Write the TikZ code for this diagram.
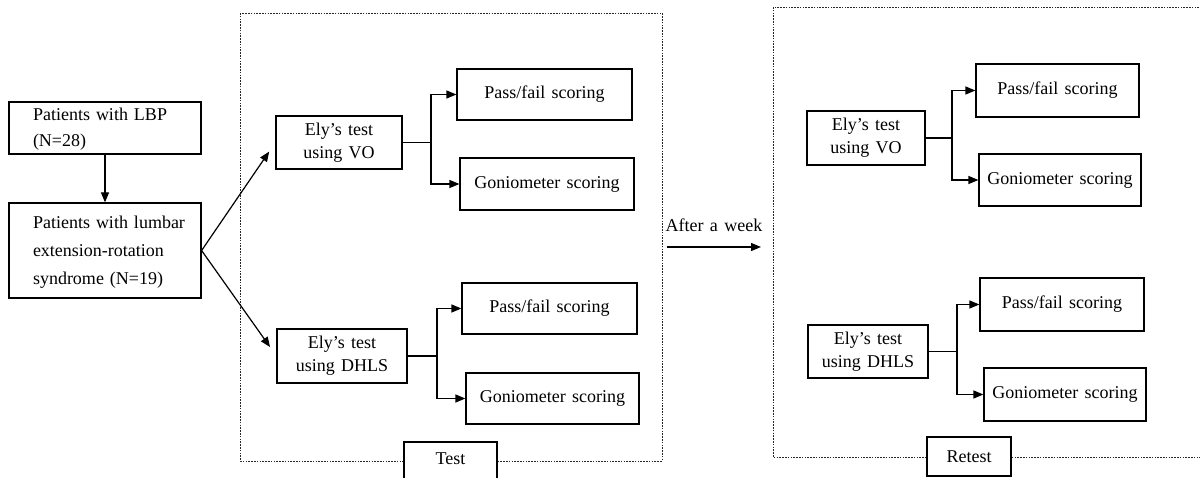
\documentclass[tikz,border=0pt]{standalone}
\usepackage{fontspec}
\setmainfont[WordSpace=1.4]{Liberation Serif}
\usetikzlibrary{arrows.meta}
\newcommand{\lefttext}[1]{\hspace*{12pt}\begin{tabular}{@{}l@{}}#1\end{tabular}}
\begin{document}
\begin{tikzpicture}[x=1pt,y=-1pt,
  every node/.style={font=\fontsize{18}{23}\selectfont},
  box/.style={draw=black,line width=1.2pt,fill=white,inner sep=0pt,align=center},
  lbox/.style={box,align=left,text width=168},
  tagbox/.style={draw=black,line width=2.2pt,fill=white,inner sep=0pt},
  frame/.style={draw=black!85,line width=0.9pt,dash pattern=on 1.6pt off 1.2pt},
  line/.style={draw=black,line width=1.2pt},
  arr/.style={line,-{Triangle[length=10pt,width=8pt]}}]
\path[fill=white,use as bounding box] (0,0) rectangle (1200,478);
\clip (0,0) rectangle (1200,478);
% dotted frames
\draw[frame] (240,13) rectangle (662,461);
\draw[frame] (773,7) rectangle (1215,457);
% left boxes
\node[lbox,minimum width=192,minimum height=52,font=\fontsize{18}{26}\selectfont] (b1) at (105,128) {\lefttext{Patients with LBP\\(N=28)}};
\node[lbox,minimum width=192,minimum height=95,font=\fontsize{18}{28}\selectfont] (b2) at (105,250.5) {\lefttext{Patients with lumbar\\extension-rotation\\syndrome (N=19)}};
% test
\node[box,minimum width=126,minimum height=53] (evo) at (339,142.5) {Ely’s test\\using VO};
\node[box,minimum width=175,minimum height=51] (pf1) at (544.5,94.5) {Pass/fail scoring};
\node[box,minimum width=174,minimum height=52] (gt1) at (547,184) {Goniometer scoring};
\node[box,minimum width=130,minimum height=54] (edh) at (342,356) {Ely’s test\\using DHLS};
\node[box,minimum width=175,minimum height=51] (pf2) at (549.5,308.5) {Pass/fail scoring};
\node[box,minimum width=173,minimum height=51] (gt2) at (552.5,398.5) {Goniometer scoring};
\node[tagbox,minimum width=93,minimum height=44] (test) at (450.5,464) {};
\node (testt) at (450.5,459) {Test};
% retest
\node[box,minimum width=118,minimum height=54] (rvo) at (866,138) {Ely’s test\\using VO};
\node[box,minimum width=163,minimum height=53] (pf3) at (1057.5,90.5) {Pass/fail scoring};
\node[box,minimum width=162,minimum height=52] (gt3) at (1060,180) {Goniometer scoring};
\node[box,minimum width=120,minimum height=53] (rdh) at (868,351.5) {Ely’s test\\using DHLS};
\node[box,minimum width=164,minimum height=53] (pf4) at (1062,304.5) {Pass/fail scoring};
\node[box,minimum width=162,minimum height=53] (gt4) at (1065,394.5) {Goniometer scoring};
\node[tagbox,minimum width=84,minimum height=39] (retest) at (969,456.5) {Retest};
% after a week
\node (awt) at (714,225) {After a week};
\coordinate (aw1) at (667,247);
\coordinate (aw2) at (761,247);
\draw[arr] (aw1) -- (aw2);
% connectors
\draw[arr] (b1.south) -- (b2.north);
\draw[arr,shorten >=11pt] (b2.east) -- (evo.west);
\draw[arr,shorten >=11pt] (b2.east) -- (edh.west);
\coordinate (j1) at (431,142.5);
\draw[line] (evo.east) -- (j1);
\draw[arr] (j1) |- (pf1.west);
\draw[arr] (j1) |- (gt1.west);
\coordinate (j2) at (437,356);
\draw[line] (edh.east) -- (j2);
\draw[arr] (j2) |- (pf2.west);
\draw[arr] (j2) |- (gt2.west);
\coordinate (j3) at (952,138);
\draw[line] (rvo.east) -- (j3);
\draw[arr] (j3) |- (pf3.west);
\draw[arr] (j3) |- (gt3.west);
\coordinate (j4) at (957,351.5);
\draw[line] (rdh.east) -- (j4);
\draw[arr] (j4) |- (pf4.west);
\draw[arr] (j4) |- (gt4.west);
\end{tikzpicture}
\end{document}
